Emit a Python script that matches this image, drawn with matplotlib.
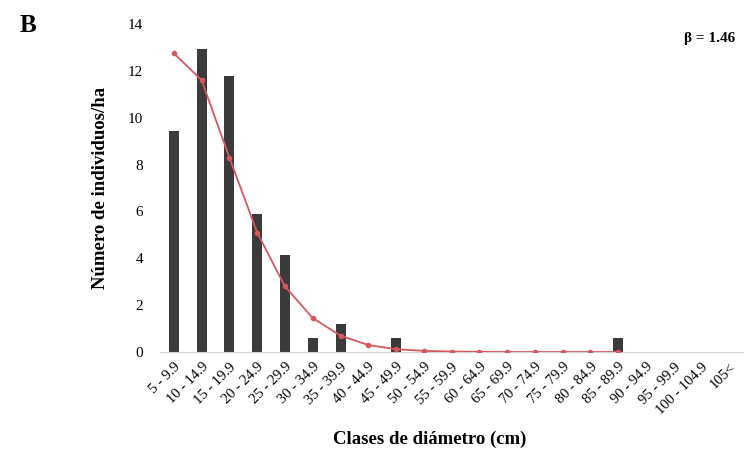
import matplotlib.pyplot as plt
import numpy as np

plt.rcParams['font.family'] = ['Liberation Serif', 'DejaVu Serif']

clases = ["5 - 9.9", "10 - 14.9", "15 - 19.9", "20 - 24.9", "25 - 29.9",
          "30 - 34.9", "35 - 39.9", "40 - 44.9", "45 - 49.9", "50 - 54.9",
          "55 - 59.9", "60 - 64.9", "65 - 69.9", "70 - 74.9", "75 - 79.9",
          "80 - 84.9", "85 - 89.9", "90 - 94.9", "95 - 99.9", "100 - 104.9",
          "105<"]
observado = [9.45, 12.95, 11.8, 5.9, 4.15, 0.6, 1.2, 0, 0.6, 0, 0, 0, 0, 0,
             0, 0, 0.6, 0, 0, 0, 0]
esperado = [12.75, 11.6, 8.3, 5.1, 2.8, 1.45, 0.7, 0.3, 0.12, 0.05, 0.02,
            0.01, 0.0, 0.0, 0.0, 0.0, 0.0]

fig = plt.figure(figsize=(7.44, 4.58), dpi=100)
ax = fig.add_axes([0.215, 0.2314, 0.784, 0.7162])

x = np.arange(len(clases))
ax.bar(x, observado, width=0.36, color="#3b3b3b", zorder=2)
ax.plot(x[:len(esperado)], esperado, color="#d6585e", lw=1.3,
        marker="o", ms=3, zorder=3)

ax.set_xlim(-0.5, len(clases) - 0.5)
ax.set_ylim(0, 14)
ax.set_yticks(range(0, 15, 2))
ax.set_xticks(x)
ax.set_xticklabels(clases, rotation=45, ha="right", rotation_mode="anchor",
                   fontsize=10.5)
ax.tick_params(axis="y", length=0, labelsize=11, pad=12)
ax.tick_params(axis="x", length=0, pad=6)

for s in ["top", "right", "left"]:
    ax.spines[s].set_visible(False)
ax.spines["bottom"].set_color("#d0d0d0")

ax.set_ylabel("Número de individuos/ha", fontsize=13.5, fontweight="bold",
              labelpad=14)
fig.text(0.578, 0.04, "Clases de diámetro (cm)", fontsize=13.5,
         fontweight="bold", ha="center", va="center")
fig.text(0.027, 0.945, "B", fontsize=18, fontweight="bold", va="center")
fig.text(0.988, 0.917, "β = 1.46", fontsize=11, fontweight="bold",
         ha="right", va="center")

fig.savefig("out.png", dpi=100)
